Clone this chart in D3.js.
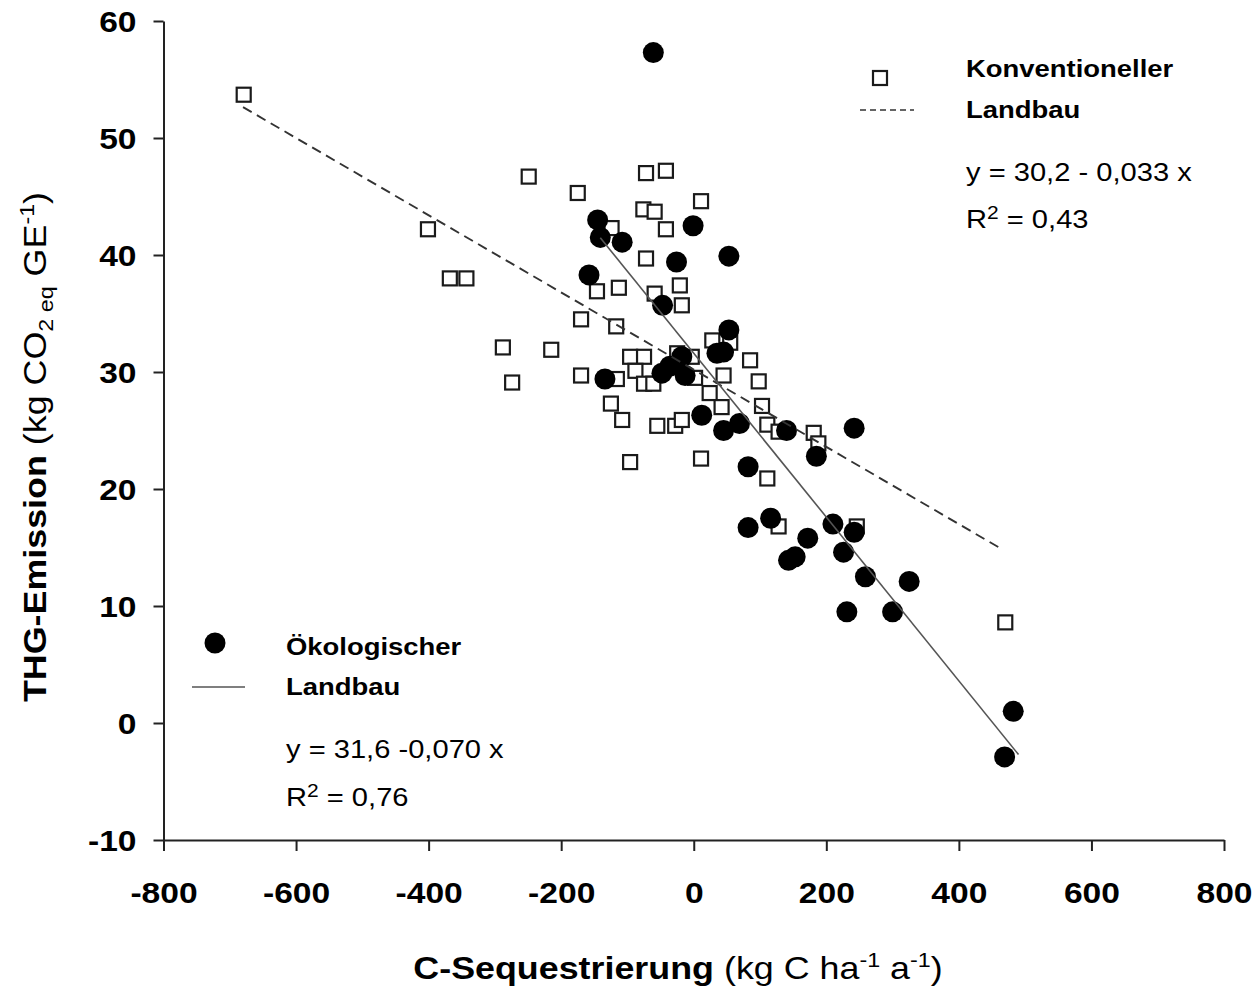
<!DOCTYPE html>
<html>
<head>
<meta charset="utf-8">
<script src="https://cdn.jsdelivr.net/npm/d3@7"></script>
<style>
  body { margin: 0; background: #fff; }
  svg { display: block; }
</style>
</head>
<body>
<div id="chart"></div>
<script>
// Konventioneller Landbau: [C-Sequestrierung, THG-Emission]
const konv = [
  [-679,53.7],[-401,42.2],[-368,38.0],[-343,38.0],[-249,46.7],[-175,45.3],[-288,32.1],[-274,29.1],
  [-215,31.9],[-170,34.5],[-170,29.7],[-146,36.9],[-124,42.3],[-113,37.2],[-117,33.9],[-116,29.4],
  [-125,27.3],[-108,25.9],[-96,22.3],[-96,31.3],[-75,31.3],[-88,30.1],[-75,29.0],[-61,29.0],
  [-72,47.0],[-42,47.2],[11,44.6],[-76,43.9],[-59,43.7],[-42,42.2],[-72,39.7],[-59,36.7],
  [-21,37.4],[-18,35.7],[-25,31.6],[-3,31.3],[2,29.5],[-55,25.4],[-28,25.4],[-18,25.9],
  [11,22.6],[28,32.7],[55,32.5],[85,31.0],[45,29.7],[98,29.2],[24,28.2],[42,27.0],
  [103,27.1],[111,25.5],[128,24.9],[181,24.8],[188,23.9],[111,20.9],[128,16.8],[246,16.8],[470,8.6]
];
// Ökologischer Landbau
const oeko = [
  [-61,57.3],[-145,43.0],[-141,41.5],[-108,41.1],[-1,42.5],[-26,39.4],[53,39.9],[-158,38.3],
  [-47,35.7],[53,33.6],[35,31.6],[45,31.7],[-18,31.3],[-36,30.5],[-48,29.9],[-13,29.7],
  [-134,29.4],[12,26.3],[45,25.0],[69,25.6],[140,25.0],[242,25.2],[185,22.8],[82,21.9],
  [82,16.7],[116,17.5],[172,15.8],[143,13.9],[153,14.2],[210,17.0],[242,16.3],[226,14.6],
  [259,12.5],[325,12.1],[231,9.5],[300,9.5],[469,-2.9],[482,1.0]
];
// Regressionen: [Achsenabschnitt, Steigung], x-Bereich
const konvFit = [30.2, -0.033], konvRange = [-680, 463];
const oekoFit = [31.6, -0.070], oekoRange = [-141, 490];

const xTicks = [-800,-600,-400,-200,0,200,400,600,800];
const yTicks = [-10,0,10,20,30,40,50,60];

const FONT = "'Liberation Sans', Arial, Helvetica, sans-serif";
const SX = 1.12; // text in the picture is a bit wider than Arial

const W = 1257, H = 995;
const svg = d3.select("#chart").append("svg")
  .attr("width", W).attr("height", H)
  .style("font-family", FONT);

const x = d3.scaleLinear().domain([-800, 800]).range([163.5, 1224]);
const y = d3.scaleLinear().domain([-10, 60]).range([840, 21]);

// axes (plain hyphen as minus, like the original)
const fmt = d => String(d);
const gx = svg.append("g")
  .attr("transform", "translate(0," + y(-10) + ")")
  .call(d3.axisBottom(x).tickValues(xTicks).tickFormat(fmt).tickSize(11).tickSizeOuter(0).tickPadding(31));
const gy = svg.append("g")
  .attr("transform", "translate(" + x(-800) + ",0)")
  .call(d3.axisLeft(y).tickValues(yTicks).tickFormat(fmt).tickSize(10).tickSizeOuter(0).tickPadding(17));

[gx, gy].forEach(g => {
  g.selectAll("path, line").attr("stroke", "#222").attr("stroke-width", 2);
  g.selectAll("text")
    .attr("fill", "#000")
    .style("font-family", FONT)
    .style("font-size", "30px")
    .style("font-weight", "bold");
});
gx.selectAll("text").attr("transform", "scale(" + SX + ",1)");
gy.selectAll("text")
  .attr("x", -27 / SX)
  .attr("dy", "0.36em")
  .attr("transform", "scale(" + SX + ",1)");

// markers
svg.append("g").selectAll("rect").data(konv).enter().append("rect")
  .attr("x", d => x(d[0]) - 7)
  .attr("y", d => y(d[1]) - 7)
  .attr("width", 14).attr("height", 14)
  .attr("fill", "#fff").attr("stroke", "#1a1a1a").attr("stroke-width", 2.2);

svg.append("g").selectAll("circle").data(oeko).enter().append("circle")
  .attr("cx", d => x(d[0]))
  .attr("cy", d => y(d[1]))
  .attr("r", 10.5)
  .attr("fill", "#000");

// regression lines
const fitLine = d3.line().x(d => x(d[0])).y(d => y(d[1]));
svg.append("path")
  .attr("d", fitLine(konvRange.map(v => [v, konvFit[0] + konvFit[1] * v])))
  .attr("fill", "none").attr("stroke", "#333").attr("stroke-width", 1.9)
  .attr("stroke-dasharray", "10,6");
svg.append("path")
  .attr("d", fitLine(oekoRange.map(v => [v, oekoFit[0] + oekoFit[1] * v])))
  .attr("fill", "none").attr("stroke", "#555").attr("stroke-width", 1.6);

// text helper: parts = [[text, weight, shift, scale]]
function label(px, py, parts, size, anchor, rot) {
  const t = svg.append("text")
    .attr("transform", "translate(" + px + "," + py + ")" + (rot ? " rotate(" + rot + ")" : "") + " scale(" + SX + ",1)")
    .attr("text-anchor", anchor || "start")
    .style("font-size", size + "px")
    .attr("fill", "#000");
  let prev = 0;
  parts.forEach(p => {
    const sc = p[3] || 1;
    const shift = (p[2] || 0) * size;
    t.append("tspan")
      .attr("dy", shift - prev)
      .style("font-weight", p[1] || "normal")
      .style("font-size", (size * sc) + "px")
      .text(p[0]);
    prev = shift;
  });
  return t;
}

// legend Konventioneller Landbau
svg.append("rect")
  .attr("x", 873).attr("y", 71).attr("width", 14).attr("height", 14)
  .attr("fill", "#fff").attr("stroke", "#1a1a1a").attr("stroke-width", 2.2);
svg.append("line")
  .attr("x1", 860).attr("x2", 914).attr("y1", 110).attr("y2", 110)
  .attr("stroke", "#333").attr("stroke-width", 1.6).attr("stroke-dasharray", "6,4");
label(966, 77, [["Konventioneller", "bold"]], 24.5);
label(966, 118, [["Landbau", "bold"]], 24.5);
label(966, 181, [["y = 30,2 - 0,033 x"]], 26);
label(966, 228, [["R"], ["2", null, -0.33, 0.72], [" = 0,43", null, 0]], 26);

// legend Ökologischer Landbau
svg.append("circle").attr("cx", 215).attr("cy", 643).attr("r", 10.5).attr("fill", "#000");
svg.append("line")
  .attr("x1", 192).attr("x2", 245).attr("y1", 687).attr("y2", 687)
  .attr("stroke", "#555").attr("stroke-width", 1.6);
label(286, 655, [["Ökologischer", "bold"]], 24.5);
label(286, 695, [["Landbau", "bold"]], 24.5);
label(286, 758, [["y = 31,6 -0,070 x"]], 26);
label(286, 806, [["R"], ["2", null, -0.33, 0.72], [" = 0,76", null, 0]], 26);

// axis titles
label(678, 979, [
  ["C-Sequestrierung", "bold"], [" (kg C ha"], ["-1", null, -0.38, 0.65],
  [" a", null, 0], ["-1", null, -0.38, 0.65], [")", null, 0]
], 32, "middle");
label(46, 447, [
  ["THG-Emission", "bold"], [" (kg CO"], ["2 eq", null, 0.22, 0.65],
  [" GE", null, 0], ["-1", null, -0.38, 0.65], [")", null, 0]
], 32, "middle", -90);
</script>
</body>
</html>
